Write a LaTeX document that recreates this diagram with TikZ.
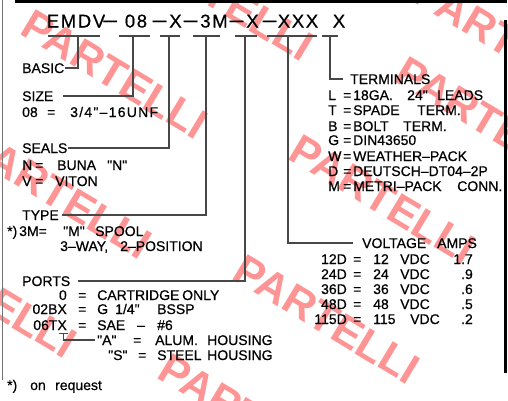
\documentclass[tikz,border=0pt]{standalone}
\usepackage{fontspec}
\setmainfont{Liberation Sans}
\newfontfamily\cadfont{Liberation Sans}[FakeBold=0.6]
\newfontfamily\cadwide{Liberation Sans}[FakeBold=0.6,LetterSpace=9]
\usetikzlibrary{positioning}

\tikzset{
  lbl/.style={anchor=west, inner sep=0pt, text height=10pt, text depth=0pt,
    font=\cadfont\fontsize{14}{16}\selectfont},
  lblw/.style={lbl, font=\cadwide\fontsize{14}{16}\selectfont},
  code/.style={inner sep=0pt, text height=13pt, text depth=0pt,
    font=\cadwide\fontsize{18.5}{20}\selectfont},
  bar/.style={code, font=\cadfont\fontsize{18.5}{20}\selectfont, xscale=1.5},
  rule/.style={draw=black!72, line width=1.3pt},
  wmark/.style={anchor=west, inner sep=0pt, rotate=-31, text=red!42,
    font=\fontsize{43}{43}\bfseries}
}

\begin{document}
\begin{tikzpicture}[x=1pt,y=-1pt]
	\useasboundingbox (0,0) rectangle (508,400);
	% watermark
	\foreach \wx/\wy in {26/21, 294/146, -30/141, 238/266, -105/240, 163/365, 132/-57, 400/68, 418/-12}
		\node[wmark] at (\wx,\wy) {PARTELLI};
	% frame
	\draw[line width=3pt] (15,1.5) -- (507,1.5);
	\draw[line width=3pt] (505.5,20) -- (505.5,373);
	\draw[black!55, line width=0.8pt] (2,0) -- (2,380);
	% part number
	\foreach \n/\t/\x in {basic/EMDV/76, size/08/136, seal/X/175.5, type/3M/214, port/X/252.5, volt/XXX/298, term/X/339}
		\node[code] (\n) at (\x,21) {\t};
	\foreach \x [count=\i] in {110, 159.5, 190.5, 236.5, 269.5}
		\node[bar] (dash\i) at (\x,21) {−};
	\foreach \a/\b in {48/100, 119/150, 160/180, 193/220, 235/257, 267/317, 322/338}
		\draw[rule] (\a,36) -- (\b,36);
	% basic
	\node[lbl] (basic-l) at (22,68) {BASIC};
	\draw[rule] (78,36) |- ([xshift=1pt]basic-l.east);
	% size
	\node[lbl] (size-l) at (22,96) {SIZE};
	\node[lbl] (size-a) at (22,112) {08};
	\node[lbl] (size-b) at (47,112) {=};
	\node[lblw] (size-c) at (70,112) {3/4"–16UNF};
	\draw[rule] (133,36) |- ([xshift=9pt]size-l.east);
	% seals
	\node[lbl] (seal-l) at (22,148) {SEALS};
	\foreach \x/\y/\t [count=\i] in {22/165/N, 35/165/=, 57/165/BUNA, 107/165/"N", 22/181/V, 35/181/=, 55/181/VITON}
		\node[lbl] (seal\i) at (\x,\y) {\t};
	\draw[rule] (169,36) |- (seal-l.east);
	% type
	\node[lbl] (type-l) at (22,215) {TYPE};
	\foreach \x/\y/\t [count=\i] in {7/231/*), 19/231/3M=, 63/231/"M", 95/231/SPOOL, 60/246/3–WAY{,}, 120/246/2–POSITION}
		\node[lbl] (type\i) at (\x,\y) {\t};
	\draw[rule] (206,36) |- ([xshift=3pt]type-l.east);
	% ports
	\node[lbl] (port-l) at (22,281) {PORTS};
	\draw[rule] (245,36) |- ([xshift=8pt]port-l.east);
	\foreach \c/\y [count=\i] in {0/295, 02BX/309, 06TX/325}{
		\node[lbl, anchor=east] (pc\i) at (67,\y) {\c};
		\node[lbl] (pe\i) at (78,\y) {=};
	}
	\foreach \x/\y/\t [count=\i] in {97/295/CARTRIDGE, 182/295/ONLY, 97/309/G, 115/309/{1/4"}, 157/309/BSSP,
		97/325/SAE, 137/325/–, 157/325/\#6}
		\node[lbl] (pd\i) at (\x,\y) {\t};
	\coordinate (hous) at (63.5,333);
	\draw[rule, line width=1pt] (59,333) -- (68,333);
	\foreach \x/\y/\t [count=\i] in {97/340/"A", 133/340/=, 155/340/ALUM., 207/340/HOUSING,
		108/355/"S", 138/355/=, 157/355/STEEL, 207/355/HOUSING}
		\node[lbl] (hs\i) at (\x,\y) {\t};
	\draw[rule] (hous) |- ([xshift=-2pt]hs1.west);
	% voltage
	\node[lbl] (volt-l) at (362,243) {VOLTAGE};
	\node[lbl] (volt-a) at (437,243) {AMPS};
	\draw[rule] (288,36) |- ([xshift=-9pt]volt-l.west);
	\foreach \c/\v/\d/\a/\y [count=\i] in {12D/12/400/1.7/259, 24D/24/400/.9/274, 36D/36/400/.6/289, 48D/48/400/.5/304, 115D/115/410/.2/319}{
		\node[lbl, anchor=east] (vc\i) at (347,\y) {\c};
		\node[lbl] (ve\i) at (353,\y) {=};
		\node[lbl] (vv\i) at (373,\y) {\v};
		\node[lbl] (vd\i) at (\d,\y) {VDC};
		\node[lbl, anchor=east] (va\i) at (473,\y) {\a};
	}
	% terminals
	\node[lbl] (term-l) at (350,79) {TERMINALS};
	\draw[rule] (330,36) |- ([xshift=-7pt]term-l.west);
	\foreach \c/\y [count=\i] in {L/95, T/110, B/126, G/140, W/156, D/171, M/186}{
		\node[lbl] (tc\i) at (328,\y) {\c};
		\node[lbl] (te\i) at (343,\y) {=};
	}
	\foreach \x/\y/\t [count=\i] in {353/95/18GA., 407/95/24", 437/95/LEADS, 353/110/SPADE, 417/110/TERM.,
		353/126/BOLT, 403/126/TERM., 353/140/DIN43650, 353/156/WEATHER–PACK,
		353/171/DEUTSCH–DT04–2P, 353/186/METRI–PACK, 457/186/CONN.}
		\node[lbl] (td\i) at (\x,\y) {\t};
	% footnote
	\foreach \x/\t [count=\i] in {7/*), 30/on, 55/request}
		\node[lbl] (note\i) at (\x,385) {\t};
\end{tikzpicture}
\end{document}
